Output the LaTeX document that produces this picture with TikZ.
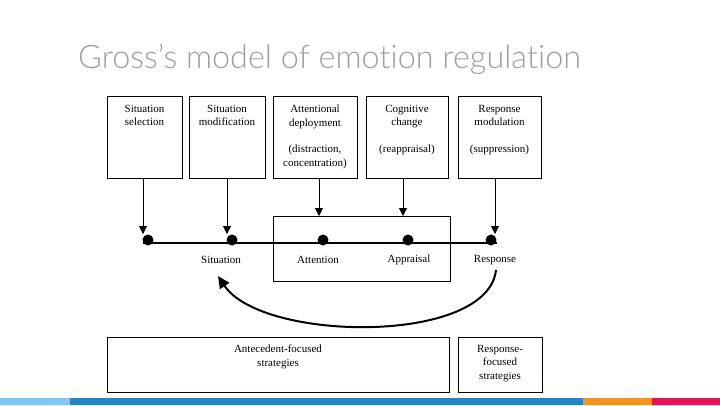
\documentclass[tikz,border=0pt]{standalone}
\usepackage{fontspec}
\setmainfont{Liberation Serif}
\newfontfamily\titlefont{Lato Light}[RawFeature={-liga,-dlig}]
\usetikzlibrary{arrows.meta}
\definecolor{titlegray}{RGB}{150,160,166}
\definecolor{barlight}{RGB}{125,200,245}
\definecolor{barblue}{RGB}{35,133,197}
\definecolor{barorange}{RGB}{247,148,29}
\definecolor{barred}{RGB}{236,15,82}
\tikzset{
  box/.style={draw=black, line width=0.9pt, inner sep=0pt, anchor=north west},
  lbl/.style={font=\fontsize{11}{13.5}\selectfont, align=center, inner sep=0pt},
  dot/.style={circle, fill=black, minimum size=11pt, inner sep=0pt},
  downarr/.style={line width=0.8pt, -{Triangle[length=8pt,width=8pt]}},
  loop/.style={line width=2pt, -{Triangle[length=12pt,width=11pt]}},
}
\begin{document}
\begin{tikzpicture}[x=1pt,y=-1pt]
\useasboundingbox (0,0) rectangle (720,405);
\fill[white] (0,0) rectangle (720,405);
% title
\node[anchor=base west, inner sep=0pt, text=titlegray, font=\titlefont\fontsize{32.4}{38}\selectfont] (title) at (78,68) {Gross’s model of emotion regulation};
% top boxes
\node[box, minimum width=75pt, minimum height=82pt] (b1) at (107,96) {};
\node[box, minimum width=76pt, minimum height=82pt] (b2) at (189,96) {};
\node[box, minimum width=84pt, minimum height=82pt] (b3) at (273,96) {};
\node[box, minimum width=82pt, minimum height=82pt] (b4) at (366,96) {};
\node[box, minimum width=83pt, minimum height=82pt] (b5) at (458,96) {};
\node[lbl, anchor=north] (t1) at (144.5,105) {Situation\\selection};
\node[lbl, anchor=north] (t2) at (227,105) {Situation\\modification};
\node[lbl, anchor=north] (t3) at (315,105) {Attentional\\deployment};
\node[lbl, anchor=north] (t3b) at (315,145) {(distraction,\\concentration)};
\node[lbl, anchor=north] (t4) at (407,105) {Cognitive\\change};
\node[lbl, anchor=north] (t4b) at (407,145) {(reappraisal)};
\node[lbl, anchor=north] (t5) at (499.5,105) {Response\\modulation};
\node[lbl, anchor=north] (t5b) at (499.5,145) {(suppression)};
% middle box
\node[box, minimum width=177pt, minimum height=65pt] (mid) at (273,216) {};
% timeline
\coordinate (ls) at (143,243);
\coordinate (le) at (497,243);
\draw[line width=2pt] (ls) -- (le);
\node[dot] (d1) at (148,240) {};
\node[dot] (d2) at (232,240) {};
\node[dot] (d3) at (323,240) {};
\node[dot] (d4) at (408,240) {};
\node[dot] (d5) at (491,240) {};
% arrow tips
\coordinate (a1) at (143,234);
\coordinate (a2) at (227,234);
\coordinate (a3) at (319,216);
\coordinate (a4) at (403,216);
\coordinate (a5) at (495,234);
\draw[downarr] (b1.south -| a1) -- (a1);
\draw[downarr] (b2.south -| a2) -- (a2);
\draw[downarr] (b3.south -| a3) -- (a3);
\draw[downarr] (b4.south -| a4) -- (a4);
\draw[downarr] (b5.south -| a5) -- (a5);
% labels
\node[lbl] (s) at (221,260) {Situation};
\node[lbl] (at) at (318,260) {Attention};
\node[lbl] (ap) at (409,260) {Appraisal};
\node[lbl] (r) at (495,260) {Response};
% feedback loop
\draw[loop] (r.south) ++(1,5) coordinate (lstart) .. controls (488,345) and (262,342) .. (218,276);
% bottom boxes
\node[box, minimum width=342pt, minimum height=55pt] (bb1) at (107,337) {};
\node[box, minimum width=84pt, minimum height=55pt] (bb2) at (458,337) {};
\node[lbl, anchor=north] (bt1) at (278,345) {Antecedent-focused\\strategies};
\node[lbl, anchor=north] (bt2) at (500,345) {Response-\\focused\\strategies};
% bottom bar
\fill[barlight] (0,398) rectangle (70,405);
\fill[barblue] (70,398) rectangle (583,405);
\fill[barorange] (583,398) rectangle (652,405);
\fill[barred] (652,398) rectangle (720,405);
\end{tikzpicture}
\end{document}
